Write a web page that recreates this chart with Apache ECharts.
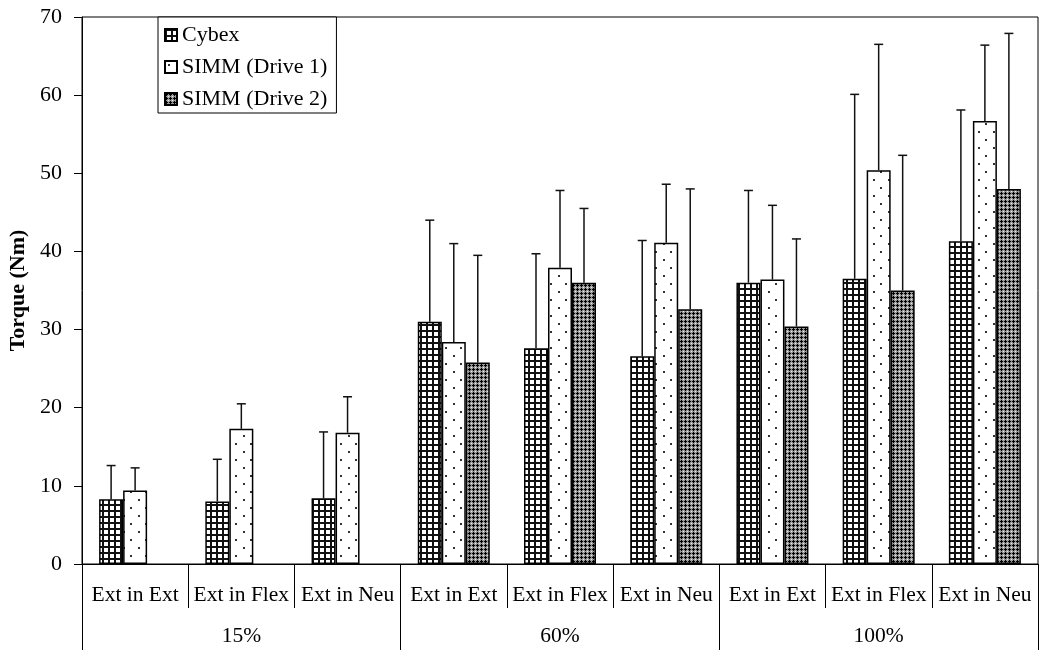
<!DOCTYPE html>
<html>
<head>
<meta charset="utf-8">
<script src="https://cdn.jsdelivr.net/npm/echarts@6/dist/echarts.min.js"></script>
<style>html,body{margin:0;padding:0;background:#fff}#c{width:1042px;height:650px}</style>
</head>
<body>
<div id="c"></div>
<script>
// ---- data ----
const categories = ['Ext in Ext','Ext in Flex','Ext in Neu','Ext in Ext','Ext in Flex','Ext in Neu','Ext in Ext','Ext in Flex','Ext in Neu'];
const groups = ['15%','60%','100%'];
const seriesNames = ['Cybex','SIMM (Drive 1)','SIMM (Drive 2)'];
const cybex    = [8.3, 8.0, 8.4, 31.0, 27.6, 26.6, 36.0, 36.5, 41.3];
const cybexSD  = [4.3, 5.4, 8.5, 13.0, 12.1, 14.8, 11.8, 23.6, 16.8];
const simm1    = [9.4, 17.3, 16.8, 28.4, 37.9, 41.1, 36.4, 50.4, 56.7];
const simm1SD  = [2.9, 3.2, 4.6, 12.6, 9.9, 7.5, 9.5, 16.1, 9.7];
const simm2    = [null, null, null, 25.8, 36.0, 32.6, 30.4, 35.0, 48.0];
const simm2SD  = [null, null, null, 13.7, 9.5, 15.4, 11.2, 17.3, 19.9];
const yTicks   = {min: 0, max: 70, interval: 10};

// ---- patterns ----
function tile(w, h, draw) {
  const c = document.createElement('canvas'); c.width = w; c.height = h;
  const g = c.getContext('2d'); draw(g); return {image: c, repeat: 'repeat'};
}
const gridPat = tile(6, 6, g => {
  g.fillStyle = '#fff'; g.fillRect(0,0,6,6);
  g.fillStyle = '#111'; g.fillRect(0,0,6,2); g.fillRect(0,0,2,6);
});
const dotPat = tile(15, 16, g => {
  g.fillStyle = '#fff'; g.fillRect(0,0,15,16);
  g.fillStyle = '#333'; g.fillRect(3,3,2,2); g.fillRect(10,11,2,2);
});
const hatchPat = tile(4, 4, g => {
  g.fillStyle = '#999'; g.fillRect(0,0,4,4);
  g.fillStyle = '#000';
  g.fillRect(1,0,1,3); g.fillRect(0,1,3,1);
  g.fillStyle = '#eee'; g.fillRect(3,3,1,1);
});
const patterns = [gridPat, dotPat, hatchPat];
const values = [cybex, simm1, simm2];
const sds = [cybexSD, simm1SD, simm2SD];

const FONT = 'Liberation Serif';
const BW = 24;

function errRender(offsetIdx) {
  return function (params, api) {
    const ci = api.value(0), v = api.value(1), sd = api.value(2);
    const base = api.coord([ci, v]);
    const top = api.coord([ci, v + sd]);
    const x = base[0] + (offsetIdx - 1) * BW;
    const st = {stroke: '#111', lineWidth: 1.5};
    return {type: 'group', children: [
      {type: 'line', shape: {x1: x, y1: base[1], x2: x, y2: top[1]}, style: st},
      {type: 'line', shape: {x1: x - 4.5, y1: top[1], x2: x + 4.5, y2: top[1]}, style: st}
    ]};
  };
}

const series = [];
seriesNames.forEach((n, i) => {
  series.push({
    name: n, type: 'bar', barWidth: BW, barGap: '0%',
    data: values[i].map(v => v == null ? '-' : v),
    itemStyle: {color: patterns[i], borderColor: '#000', borderWidth: 1.5},
    emphasis: {disabled: true}, z: 2
  });
});
seriesNames.forEach((n, i) => {
  const d = [];
  values[i].forEach((v, k) => { if (v != null) d.push([k, v, sds[i][k]]); });
  series.push({
    name: n + ' err', type: 'custom', renderItem: errRender(i),
    data: d, encode: {x: 0, y: 1}, z: 3, silent: true
  });
});

const chart = echarts.init(document.getElementById('c'));
chart.setOption({
  animation: false,
  backgroundColor: '#fff',
  grid: {left: 82, right: 4, top: 17, bottom: 86, show: true, borderColor: '#000', borderWidth: 1,
         containLabel: false, outerBoundsMode: 'none'},
  legend: {
    data: seriesNames, orient: 'vertical', left: 158, top: 17,
    padding: [7, 9, 3, 6], itemGap: 10, itemWidth: 12, itemHeight: 12, icon: 'rect',
    backgroundColor: '#fff', borderColor: '#000', borderWidth: 1,
    textStyle: {fontFamily: FONT, fontSize: 22, color: '#000', lineHeight: 22}
  },
  xAxis: [
    {type: 'category', data: categories, position: 'bottom',
     axisLine: {lineStyle: {color: '#000', width: 1}},
     axisTick: {show: true, length: 44, interval: 0, lineStyle: {color: '#000', width: 1}},
     axisLabel: {interval: 0, margin: 20, color: '#000', fontFamily: FONT, fontSize: 21.5}},
    {type: 'category', data: groups, position: 'bottom',
     axisLine: {show: false, onZero: false},
     axisTick: {show: true, length: 86, interval: 0, lineStyle: {color: '#000', width: 1}},
     axisLabel: {interval: 0, margin: 61, color: '#000', fontFamily: FONT, fontSize: 21.5}}
  ],
  yAxis: {
    type: 'value', min: yTicks.min, max: yTicks.max, interval: yTicks.interval,
    name: 'Torque (Nm)', nameLocation: 'middle', nameGap: 52,
    nameTextStyle: {fontFamily: FONT, fontSize: 22, fontWeight: 'bold', color: '#000'},
    axisLine: {show: true, lineStyle: {color: '#000', width: 1}},
    axisTick: {show: true, length: 8, lineStyle: {color: '#000'}},
    axisLabel: {margin: 20, color: '#000', fontFamily: FONT, fontSize: 22},
    splitLine: {show: false}
  },
  series: series
});
</script>
</body>
</html>
